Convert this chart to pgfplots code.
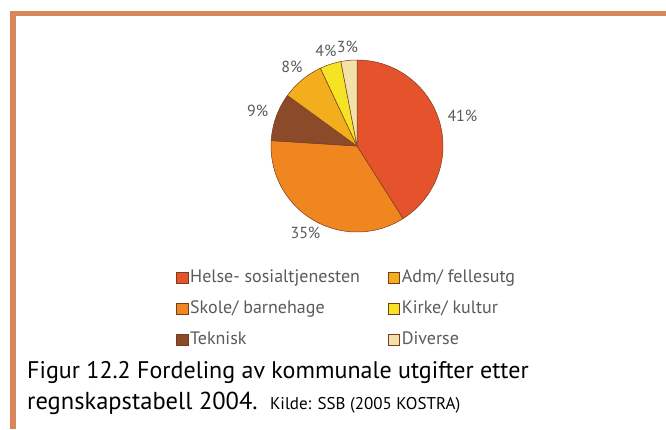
\documentclass[border=0pt]{standalone}
\usepackage{fontspec}
\setmainfont{PT Sans}
\usepackage{pgfplots}
\usepackage{pgfplotstable}
\pgfplotsset{compat=1.18}

\definecolor{frame}{HTML}{D8875A}
\definecolor{slice0}{HTML}{E4532B}
\definecolor{slice1}{HTML}{F0861F}
\definecolor{slice2}{HTML}{8B4B2B}
\definecolor{slice3}{HTML}{F3AE1D}
\definecolor{slice4}{HTML}{F5E423}
\definecolor{slice5}{HTML}{F3E2A8}
\definecolor{edge}{HTML}{7A3A1E}
\definecolor{labelgray}{HTML}{5A5A5A}

\newcommand\labelfont{\fontsize{16}{16}\selectfont}

% share in percent, clockwise from 12 o'clock
\pgfplotstableread{
name share
Helse 41
Skole 35
Teknisk 9
Adm 8
Kirke 4
Diverse 3
}\piedata
\pgfplotstablecreatecol[create col/expr accum={\pgfmathaccuma + \thisrow{share}}{0}]{cum}\piedata

\begin{document}
\begin{tikzpicture}[x=1pt,y=1pt]
\useasboundingbox (0,0) rectangle (666,429);
\fill[frame] (10,413) rectangle (666,418);
\fill[frame] (10,0) rectangle (15.5,418);

\begin{axis}[
    at={(271pt,197pt)}, anchor=south west,
    scale only axis, width=172pt, height=172pt,
    xmin=-1, xmax=1, ymin=-1, ymax=1,
    hide axis, clip=false,
    legend columns=2,
    legend cell align=left,
    legend image code/.code={\draw[#1, draw=edge, line width=0.4pt] (0pt,-5.5pt) rectangle (11.5pt,5.5pt);},
    legend style={at={(-0.552,-0.22)}, anchor=north west, draw=none, fill=none, inner sep=0pt,
        font=\fontsize{18}{18}\selectfont, text=labelgray, row sep=15pt,
        nodes={inner xsep=2pt, inner ysep=0pt, text height=12pt, text depth=4pt},
        /tikz/every even column/.append style={column sep=26pt}},
]
\pgfplotsinvokeforeach{0,...,5}{
  \pgfplotstablegetelem{#1}{cum}\of\piedata \let\cum\pgfplotsretval
  \pgfplotstablegetelem{#1}{share}\of\piedata \let\share\pgfplotsretval
  \pgfmathsetmacro\sa{90-3.6*(\cum-\share)}
  \pgfmathsetmacro\ea{90-3.6*\cum}
  \pgfmathsetmacro\ma{(\sa+\ea)/2}
  \pgfmathsetmacro\an{\ma+180}
  \edef\temp{\noexpand\filldraw[fill=slice#1, draw=edge, line width=0.5pt]
      (axis cs:0,0) -- ++(\sa:86pt) arc[start angle=\sa, end angle=\ea, radius=86pt] -- cycle;
    \noexpand\path (axis cs:0,0) ++(\ma:93pt)
      node[anchor=\an, inner sep=1pt, text=labelgray, font=\noexpand\labelfont] {\share\noexpand\%};}
  \temp
}
\addlegendimage{fill=slice0}
\addlegendimage{fill=slice3}
\addlegendimage{fill=slice1}
\addlegendimage{fill=slice4}
\addlegendimage{fill=slice2}
\addlegendimage{fill=slice5}
\legend{Helse- sosialtjenesten, Adm/ fellesutg, Skole/ barnehage, Kirke/ kultur, Teknisk, Diverse}
\end{axis}

\node[anchor=base west, inner sep=0pt, font=\fontsize{24}{24}\selectfont] at (27,51) {Figur 12.2 Fordeling av kommunale utgifter etter};
\node[anchor=base west, inner sep=0pt, font=\fontsize{24.5}{24.5}\selectfont] (l2) at (27,20) {regnskapstabell 2004.};
\node[anchor=base west, inner sep=0pt, font=\fontsize{17}{17}\selectfont] at ([xshift=12pt]l2.base east) {Kilde: SSB (2005 KOSTRA)};
\end{tikzpicture}
\end{document}
